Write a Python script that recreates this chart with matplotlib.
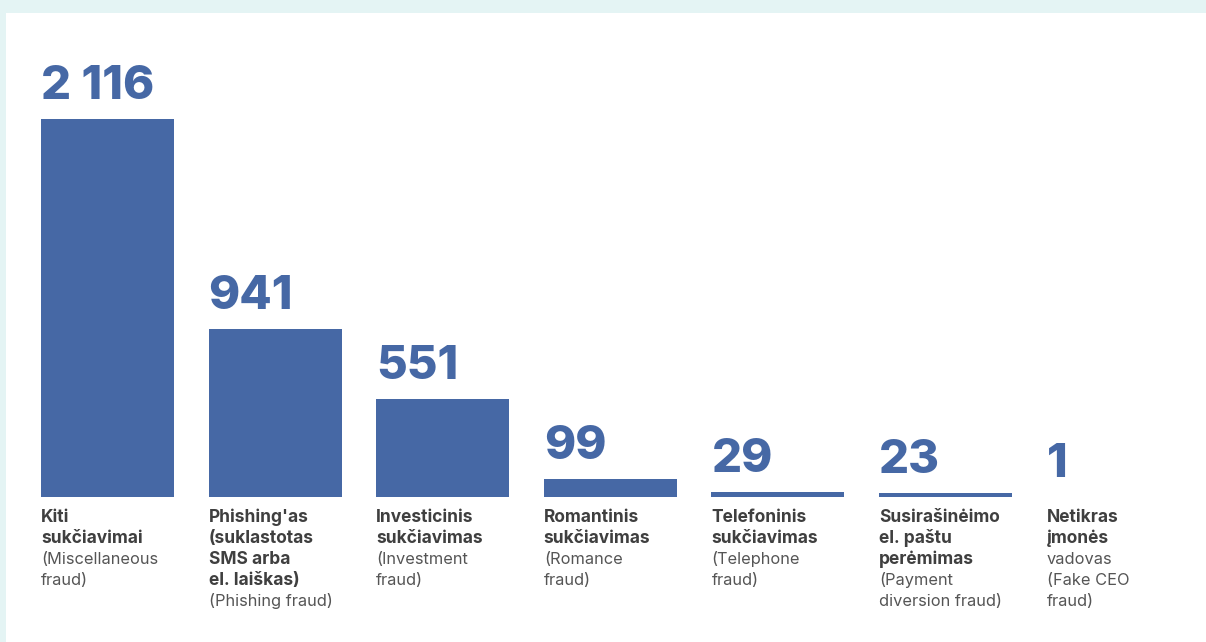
import matplotlib
matplotlib.use("Agg")
import matplotlib.pyplot as plt
from matplotlib.patches import Rectangle

# data
values = [2116, 941, 551, 99, 29, 23, 1]
value_labels = ["2 116", "941", "551", "99", "29", "23", "1"]
bold_lines = [
    ["Kiti", "sukčiavimai"],
    ["Phishing'as", "(suklastotas", "SMS arba", "el. laiškas)"],
    ["Investicinis", "sukčiavimas"],
    ["Romantinis", "sukčiavimas"],
    ["Telefoninis", "sukčiavimas"],
    ["Susirašinėimo", "el. paštu", "perėmimas"],
    ["Netikras", "įmonės"],
]
regular_lines = [
    ["(Miscellaneous", "fraud)"],
    ["(Phishing fraud)"],
    ["(Investment", "fraud)"],
    ["(Romance", "fraud)"],
    ["(Telephone", "fraud)"],
    ["(Payment", "diversion fraud)"],
    ["vadovas", "(Fake CEO", "fraud)"],
]

BLUE = "#4668a5"
W, H = 1206, 642
plt.rcParams["font.family"] = ["Inter", "DejaVu Sans"]

fig = plt.figure(figsize=(W / 100, H / 100), dpi=100, facecolor="#e4f4f4")
fig.patches.append(Rectangle((6 / W, 0), 1, (H - 13) / H, transform=fig.transFigure,
                             facecolor="white", edgecolor="none", zorder=-1))

step = 167.6
left = 107.5 - 0.5 * step
ax_h = 497 - 13
ax = fig.add_axes([left / W, (H - 497) / H, 7 * step / W, ax_h / H])
ax.set_zorder(1)
ax.set_facecolor("none")
bw = 133 / step
x = list(range(len(values)))
ax.bar(x, values, width=bw, color=BLUE)
ax.set_xlim(-0.5, 6.5)
ax.set_ylim(0, 2116 * ax_h / 378)
ax.axis("off")

tr = ax.get_xaxis_transform()
lh = 21.0      # line height in px
first = 25.0   # first baseline below the bar base, px
for i, v in enumerate(values):
    xl = i - bw / 2
    ax.annotate(value_labels[i], (xl, v), xytext=(0, 20 * 0.72), textcoords="offset points",
                ha="left", va="baseline", fontsize=34, fontweight="heavy", color=BLUE)
    lines = [(s, "bold", "#3f3f3f", 12.5) for s in bold_lines[i]] + \
            [(s, "normal", "#555555", 11.8) for s in regular_lines[i]]
    for k, (s, fw, c, fs) in enumerate(lines):
        ax.text(xl, -(first + k * lh) / ax_h, s, transform=tr, ha="left", va="baseline",
                fontsize=fs, fontweight=fw, color=c)

fig.savefig("out.png", dpi=100, facecolor=fig.get_facecolor())
